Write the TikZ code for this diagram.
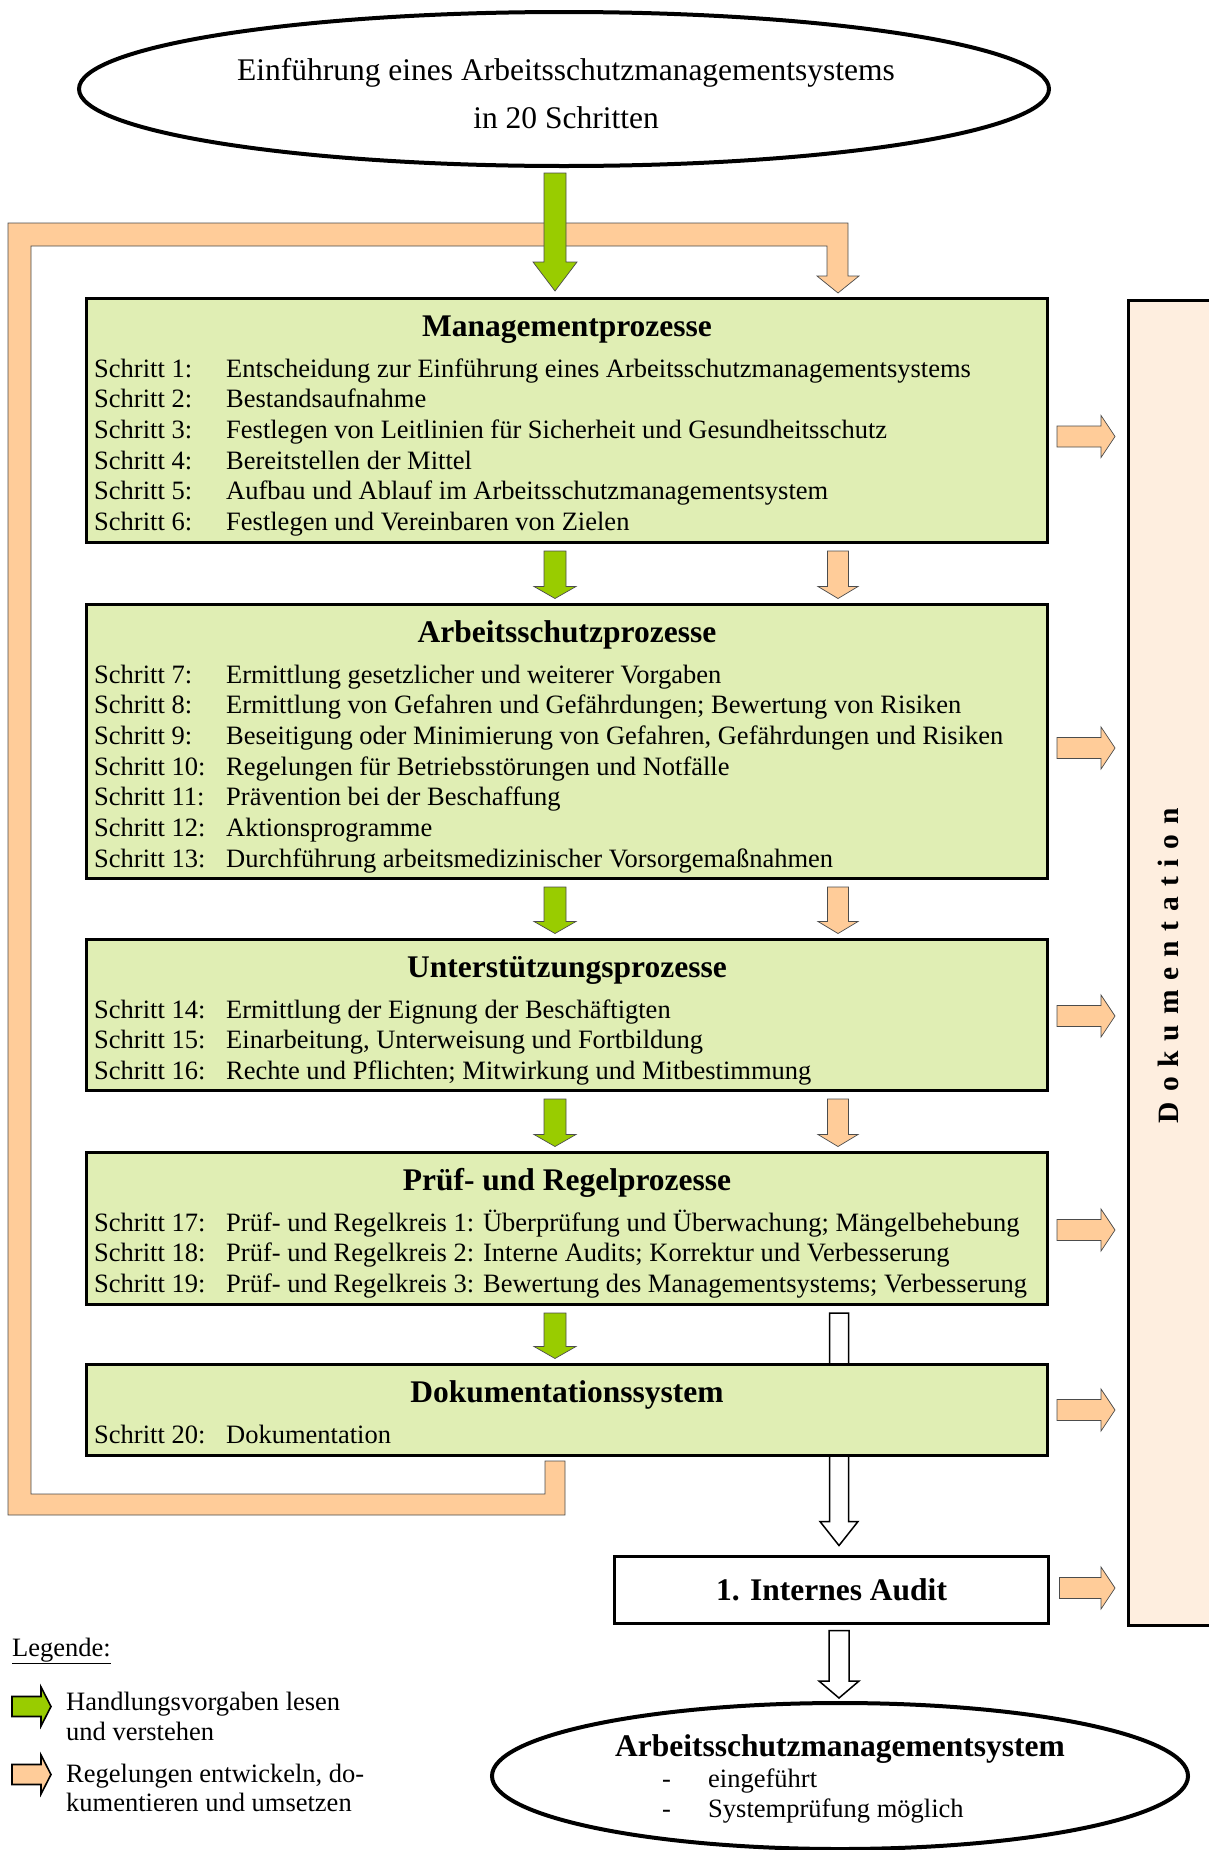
\documentclass[tikz,border=0pt]{standalone}
\usepackage{fontspec}
\setmainfont{Liberation Serif}
\usetikzlibrary{calc,shapes.geometric}

\definecolor{boxgreen}{HTML}{E0EEB4}
\definecolor{arrowgreen}{HTML}{99CC00}
\definecolor{arroworange}{HTML}{FFCC99}
\definecolor{docfill}{HTML}{FEEEDF}

% downward block arrow: style, top point, tip point, shaft half width, head half width, head length
\newcommand\blockdown[6]{%
  \path[#1] let \p1=(#2), \p2=(#3) in
    (\x1-#4pt,\y1) -- (\x1+#4pt,\y1) -- (\x1+#4pt,\y2+#6pt) -- (\x1+#5pt,\y2+#6pt)
    -- (\x1,\y2) -- (\x1-#5pt,\y2+#6pt) -- (\x1-#4pt,\y2+#6pt) -- cycle;}
% rightward block arrow: style, tail point, tip point, shaft half width, head half width, head length
\newcommand\blockright[6]{%
  \path[#1] let \p1=(#2), \p2=(#3) in
    (\x1,\y1+#4pt) -- (\x2-#6pt,\y1+#4pt) -- (\x2-#6pt,\y1+#5pt) -- (\x2,\y1)
    -- (\x2-#6pt,\y1-#5pt) -- (\x2-#6pt,\y1-#4pt) -- (\x1,\y1-#4pt) -- cycle;}
% step lines inside a process box: box name, list of number/text
\newcommand\stepsin[2]{%
  \foreach \n/\t [count=\i from 0] in {#2}
    \node[steptext] (#1-\n) at ($(#1.north west)+(7.5,{78.5+30.67*\i})$)
      {\makebox[132pt][l]{Schritt \n:}\t};}

\tikzset{
  procbox/.style={draw=black, line width=3pt, fill=boxgreen, minimum width=961pt,
    minimum height=#1, inner sep=0pt, outer sep=0pt},
  boxtitle/.style={font=\fontsize{31.5}{36}\selectfont\bfseries, anchor=base, inner sep=0pt},
  steptext/.style={font=\fontsize{26.5}{31}\selectfont, anchor=base west, inner sep=0pt},
  bigtext/.style={font=\fontsize{31.5}{36}\selectfont, anchor=base, inner sep=0pt},
  ovalbox/.style={draw=black, line width=4pt, ellipse, inner sep=0pt, outer sep=0pt},
  greenarrow/.style={fill=arrowgreen, draw=black!70, line width=0.7pt},
  orangearrow/.style={fill=arroworange, draw=black!70, line width=0.7pt},
  whitearrow/.style={fill=white, draw=black, line width=1.5pt},
  legendgreen/.style={fill=arrowgreen, draw=black, line width=1.6pt},
  legendorange/.style={fill=arroworange, draw=black, line width=1.6pt},
}

\begin{document}
\begin{tikzpicture}[x=1pt,y=-1pt]
\useasboundingbox (0,0) rectangle (1209,1850);
\clip (0,0) rectangle (1209,1850);

% column helpers for the two arrow tracks
\coordinate (gx) at (555,0);
\coordinate (ox) at (838,0);
\coordinate (wx) at (839,0);

% start ellipse
\node[ovalbox, minimum width=970pt, minimum height=154pt] (intro) at (564,89) {};
\node[bigtext] (intro-a) at (566,80) {Einführung eines Arbeitsschutzmanagementsystems};
\node[bigtext] (intro-b) at (566,128) {in 20 Schritten};

% process boxes
\node[procbox=244pt] (mgmt) at (567,420.5) {};
\node[procbox=274pt] (arb) at (567,741.5) {};
\node[procbox=151pt] (unter) at (567,1015) {};
\node[procbox=152pt] (pruef) at (567,1228.5) {};

% audit box
\node[draw=black, line width=3pt, fill=white, minimum width=434pt, minimum height=67pt,
  inner sep=0pt] (audit) at (831.5,1590) {};
\node[boxtitle] (audit-t) at (831.5,1600) {1. Internes Audit};

% documentation column
\node[draw=black, line width=3pt, fill=docfill, anchor=north west, minimum width=110pt,
  minimum height=1325pt, inner sep=0pt] (doku) at (1126.5,298.5) {};
\node[rotate=90, inner sep=0pt, font=\fontsize{29.5}{34}\selectfont\bfseries] (doku-t)
  at (1168,965.5) {\makebox[315pt]{D\hfill o\hfill k\hfill u\hfill m\hfill e\hfill n\hfill t\hfill a\hfill t\hfill i\hfill o\hfill n}};

% white arrow from the check processes through the documentation box to the audit
\blockdown{whitearrow}{$(pruef.south -| wx)+(0,8.5)$}{$(audit.north -| wx)+(0,-9.5)$}{9.5}{19}{24}

\node[procbox=91pt] (dok) at (567,1410) {};

% feedback loop from the documentation system back to the management processes
\coordinate (loopstart) at ($(dok.south -| gx)+(0,5.5)$);
\coordinate (loopend) at ($(mgmt.north -| ox)+(0,-5.5)$);
\path[orangearrow] let \p1=(loopstart), \p2=(loopend) in
  (\x1-10pt,\y1) -- (\x1-10pt,-1494pt) -- (31pt,-1494pt) -- (31pt,-246pt)
  -- (\x2-11pt,-246pt) -- (\x2-11pt,\y2+17pt) -- (\x2-21pt,\y2+17pt) -- (\x2,\y2)
  -- (\x2+21pt,\y2+17pt) -- (\x2+10pt,\y2+17pt) -- (\x2+10pt,-223pt) -- (8pt,-223pt)
  -- (8pt,-1515pt) -- (\x1+10pt,-1515pt) -- (\x1+10pt,\y1) -- cycle;

% box titles and steps
\node[boxtitle] (mgmt-t) at ($(mgmt.north)+(0,37.5)$) {Managementprozesse};
\stepsin{mgmt}{1/{Entscheidung zur Einführung eines Arbeitsschutzmanagementsystems},
  2/Bestandsaufnahme,
  3/{Festlegen von Leitlinien für Sicherheit und Gesundheitsschutz},
  4/{Bereitstellen der Mittel},
  5/{Aufbau und Ablauf im Arbeitsschutzmanagementsystem},
  6/{Festlegen und Vereinbaren von Zielen}}

\node[boxtitle] (arb-t) at ($(arb.north)+(0,37.5)$) {Arbeitsschutzprozesse};
\stepsin{arb}{7/{Ermittlung gesetzlicher und weiterer Vorgaben},
  8/{Ermittlung von Gefahren und Gefährdungen; Bewertung von Risiken},
  9/{Beseitigung oder Minimierung von Gefahren, Gefährdungen und Risiken},
  10/{Regelungen für Betriebsstörungen und Notfälle},
  11/{Prävention bei der Beschaffung},
  12/{Aktionsprogramme},
  13/{Durchführung arbeitsmedizinischer Vorsorgemaßnahmen}}

\node[boxtitle] (unter-t) at ($(unter.north)+(0,37.5)$) {Unterstützungsprozesse};
\stepsin{unter}{14/{Ermittlung der Eignung der Beschäftigten},
  15/{Einarbeitung, Unterweisung und Fortbildung},
  16/{Rechte und Pflichten; Mitwirkung und Mitbestimmung}}

\node[boxtitle] (pruef-t) at ($(pruef.north)+(0,37.5)$) {Prüf- und Regelprozesse};
\stepsin{pruef}{17/{Prüf- und Regelkreis 1: Überprüfung und Überwachung; Mängelbehebung},
  18/{Prüf- und Regelkreis 2: Interne Audits; Korrektur und Verbesserung},
  19/{Prüf- und Regelkreis 3: Bewertung des Managementsystems; Verbesserung}}

\node[boxtitle] (dok-t) at ($(dok.north)+(0,37.5)$) {Dokumentationssystem};
\stepsin{dok}{20/Dokumentation}

% top green arrow
\blockdown{greenarrow}{$(intro.south -| gx)+(0,7)$}{$(mgmt.north -| gx)+(0,-7.5)$}{11}{22}{29}

% arrows between the process boxes
\foreach \a/\b in {mgmt/arb, arb/unter, unter/pruef, pruef/dok}
  \blockdown{greenarrow}{$(\a.south -| gx)+(0,8.5)$}{$(\b.north -| gx)+(0,-6)$}{11}{21}{12};
\foreach \a/\b in {mgmt/arb, arb/unter, unter/pruef}
  \blockdown{orangearrow}{$(\a.south -| ox)+(0,8.5)$}{$(\b.north -| ox)+(0,-6)$}{10.5}{20}{12};

% result ellipse and arrow into it
\node[ovalbox, minimum width=696pt, minimum height=146pt] (result) at (840,1776) {};
\blockdown{whitearrow}{$(audit.south -| wx)+(0,5.5)$}{$(result.north -| wx)+(0,-5)$}{10}{20}{17}
\node[boxtitle] (result-t) at (840,1756) {Arbeitsschutzmanagementsystem};
\node[steptext] (result-d1) at (662,1787) {-};
\node[steptext] (result-i1) at (708,1787) {eingeführt};
\node[steptext] (result-d2) at (662,1817) {-};
\node[steptext] (result-i2) at (708,1817) {Systemprüfung möglich};

% arrows into the documentation column
\foreach \b/\dy in {mgmt/16, arb/6.5, unter/1, pruef/1.5, dok/0, audit/-2}{
  \coordinate (\b-out) at ($(\b.east)+(9.5,\dy)$);
  \coordinate (\b-in) at ($(doku.west |- \b-out)+(-11.5,0)$);
  \blockright{orangearrow}{\b-out}{\b-in}{10.5}{21}{14};
}

% legend
\node[steptext] (legend) at (12,1656) {\underline{Legende:}};
\coordinate (lg1) at (12,1706.5); \coordinate (lg2) at (51,1706.5);
\blockright{legendgreen}{lg1}{lg2}{10}{19.5}{10}
\node[steptext] (legend-g1) at (66,1710) {Handlungsvorgaben lesen};
\node[steptext] (legend-g2) at (66,1740) {und verstehen};
\coordinate (lo1) at (12,1774.5); \coordinate (lo2) at (51,1774.5);
\blockright{legendorange}{lo1}{lo2}{10}{19.5}{10}
\node[steptext] (legend-o1) at (66,1782) {Regelungen entwickeln, do-};
\node[steptext] (legend-o2) at (66,1811) {kumentieren und umsetzen};
\end{tikzpicture}
\end{document}
